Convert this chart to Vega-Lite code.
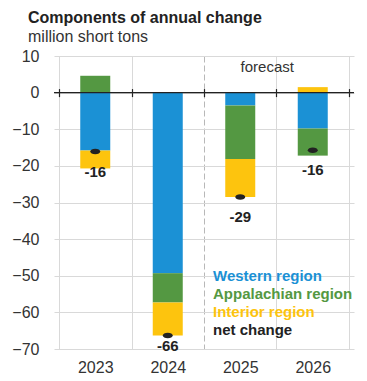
{
  "$schema": "https://vega.github.io/schema/vega-lite/v6.json",
  "autosize": {"type": "none"},
  "width": 300,
  "height": 293,
  "padding": {"left": 54, "top": 56, "right": 13, "bottom": 32},
  "background": "white",
  "config": {
    "font": "Liberation Sans",
    "view": {"stroke": null}
  },
  "title": {
    "text": "Components of annual change",
    "subtitle": "million short tons",
    "anchor": "start",
    "frame": "group",
    "dx": -26,
    "offset": 3,
    "fontSize": 16,
    "fontWeight": "bold",
    "color": "#222222",
    "subtitleFontSize": 16,
    "subtitleColor": "#333333",
    "subtitlePadding": 3
  },
  "datasets": {
    "components": [
      {"year": 2023, "region": "Western region", "value": -15.8, "ord": 1},
      {"year": 2023, "region": "Appalachian region", "value": 4.6, "ord": 2},
      {"year": 2023, "region": "Interior region", "value": -4.9, "ord": 3},
      {"year": 2024, "region": "Western region", "value": -49.3, "ord": 1},
      {"year": 2024, "region": "Appalachian region", "value": -8.0, "ord": 2},
      {"year": 2024, "region": "Interior region", "value": -9.0, "ord": 3},
      {"year": 2025, "region": "Western region", "value": -3.5, "ord": 1},
      {"year": 2025, "region": "Appalachian region", "value": -14.6, "ord": 2},
      {"year": 2025, "region": "Interior region", "value": -10.4, "ord": 3},
      {"year": 2026, "region": "Western region", "value": -9.8, "ord": 1},
      {"year": 2026, "region": "Appalachian region", "value": -7.4, "ord": 2},
      {"year": 2026, "region": "Interior region", "value": 1.5, "ord": 3}
    ],
    "net": [
      {"year": 2023, "series": "net change", "net": -16.1, "label": "-16"},
      {"year": 2024, "series": "net change", "net": -66.3, "label": "-66"},
      {"year": 2025, "series": "net change", "net": -28.5, "label": "-29"},
      {"year": 2026, "series": "net change", "net": -15.7, "label": "-16"}
    ],
    "note": [
      {"year": 2025, "y": 7.1, "text": "forecast"}
    ]
  },
  "resolve": {"axis": {"x": "independent", "y": "independent"}},
  "layer": [
    {
      "data": {"name": "note"},
      "mark": {"type": "text", "dx": 27, "fontSize": 15, "color": "#333333", "baseline": "middle"},
      "encoding": {
        "x": {
          "field": "year", "type": "quantitative",
          "scale": {"domain": [2022.5, 2026.5], "nice": false, "zero": false},
          "axis": {
            "orient": "bottom",
            "title": null,
            "values": [2022.5, 2023.5, 2024.5, 2025.5, 2026.5],
            "labels": false,
            "ticks": false,
            "domain": false,
            "grid": true,
            "zindex": 0,
            "gridColor": {"condition": {"test": "datum.value == 2024.5", "value": "#b8b8b8"}, "value": "#d9d9d9"},
            "gridDash": {"condition": {"test": "datum.value == 2024.5", "value": [6, 3]}, "value": []},
            "gridWidth": 1
          }
        },
        "y": {"field": "y", "type": "quantitative", "axis": null},
        "text": {"field": "text"}
      }
    },
    {
      "data": {"name": "components"},
      "mark": {"type": "bar", "stroke": null, "width": 30},
      "encoding": {
        "x": {
          "field": "year", "type": "quantitative",
          "axis": {
            "orient": "bottom",
            "title": null,
            "values": [2023, 2024, 2025, 2026],
            "format": "d",
            "ticks": false,
            "domain": false,
            "grid": false,
            "labelFontSize": 16,
            "labelColor": "#333333",
            "labelPadding": 10
          }
        },
        "y": {
          "field": "value", "type": "quantitative",
          "stack": "zero",
          "scale": {"domain": [-70, 10], "nice": false, "zero": false},
          "axis": {
            "title": null,
            "values": [-70, -60, -50, -40, -30, -20, -10, 0, 10],
            "grid": true,
            "zindex": 0,
            "gridColor": "#d9d9d9",
            "domain": false,
            "ticks": false,
            "labelFontSize": 16,
            "labelColor": "#333333",
            "labelPadding": 15
          }
        },
        "color": {
          "field": "region", "type": "nominal",
          "scale": {
            "domain": ["Western region", "Appalachian region", "Interior region", "net change"],
            "range": ["#1b91d5", "#549842", "#fdc40e", "#222222"]
          },
          "legend": {
            "title": null,
            "orient": "none",
            "legendX": 144,
            "legendY": 212,
            "symbolSize": 0,
            "symbolOpacity": 0,
            "symbolStrokeWidth": 0,
            "labelOffset": 0,
            "labelFontSize": 15,
            "labelFontWeight": "bold",
            "labelColor": {"expr": "scale('color', datum.value)"},
            "rowPadding": 2
          }
        },
        "order": {"field": "ord", "type": "quantitative"}
      }
    },
    {
      "data": {"values": [{}]},
      "mark": {"type": "rule", "color": "#222222", "strokeWidth": 1.2},
      "encoding": {"y": {"datum": 0, "type": "quantitative", "axis": null}}
    },
    {
      "data": {"name": "net"},
      "mark": {"type": "point", "filled": true, "opacity": 1, "size": 100, "shape": "M-1,0A1,0.55,0,1,1,1,0A1,0.55,0,1,1,-1,0Z"},
      "encoding": {
        "x": {
          "field": "year", "type": "quantitative",
          "axis": {
            "orient": "top",
            "offset": -36.6,
            "title": null,
            "values": [2022.5, 2023.5, 2024.5, 2025.5, 2026.5],
            "labels": false,
            "grid": false,
            "domain": false,
            "ticks": true,
            "tickSize": 4,
            "tickColor": "#222222",
            "tickWidth": 1.2
          }
        },
        "y": {"field": "net", "type": "quantitative", "axis": null},
        "color": {"field": "series", "type": "nominal"}
      }
    },
    {
      "data": {"name": "net"},
      "transform": [{"filter": "datum.year != 2024"}],
      "mark": {"type": "text", "dy": 20, "fontSize": 15, "fontWeight": "bold", "color": "#222222", "baseline": "middle"},
      "encoding": {
        "x": {
          "field": "year", "type": "quantitative",
          "axis": {
            "orient": "bottom",
            "offset": -256.4,
            "title": null,
            "values": [2022.5, 2023.5, 2024.5, 2025.5, 2026.5],
            "labels": false,
            "grid": false,
            "domain": false,
            "ticks": true,
            "tickSize": 4,
            "tickColor": "#222222",
            "tickWidth": 1.2
          }
        },
        "y": {"field": "net", "type": "quantitative", "axis": null},
        "text": {"field": "label"}
      }
    },
    {
      "data": {"name": "net"},
      "transform": [{"filter": "datum.year == 2024"}],
      "mark": {"type": "text", "dy": 11, "fontSize": 15, "fontWeight": "bold", "color": "#222222", "baseline": "middle"},
      "encoding": {
        "x": {"field": "year", "type": "quantitative", "axis": null},
        "y": {"field": "net", "type": "quantitative", "axis": null},
        "text": {"field": "label"}
      }
    }
  ]
}
